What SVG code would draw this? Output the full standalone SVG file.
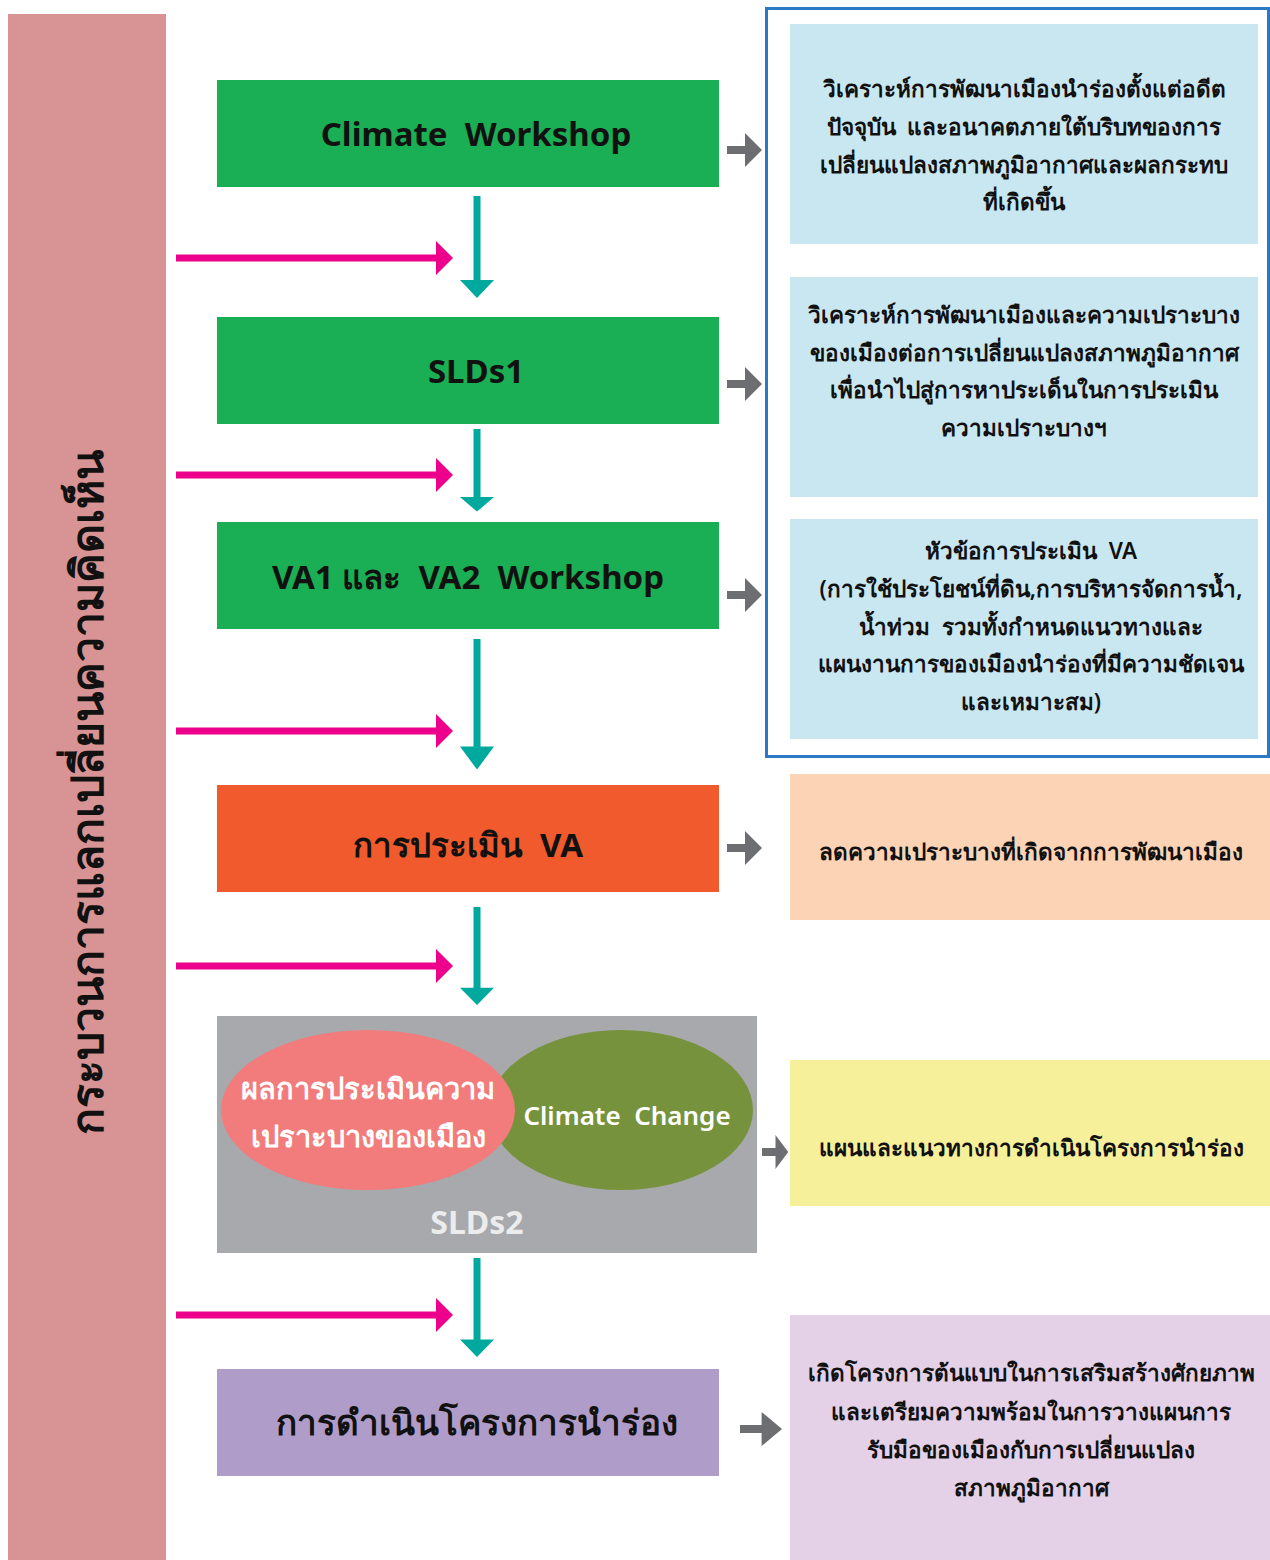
<svg xmlns="http://www.w3.org/2000/svg" width="1270" height="1560" viewBox="0 0 1270 1560">
<defs>
<style>
.t{font-family:"Noto Sans","DejaVu Sans",sans-serif;text-anchor:middle;white-space:pre}
.box{font-size:33px;font-weight:bold;fill:#111}
.desc{font-size:22.5px;font-weight:600;fill:#111}
.pink{fill:#ec008c}
.teal{fill:#00a99d}
.gray{fill:#6d6e71}
</style>
<g id="pinkArrow"><rect x="0" y="-3.5" width="262" height="7"/><polygon points="260,-17 277,0 260,17"/></g>
<g id="tealArrow"><rect x="-3.5" y="0" width="7" height="86"/><polygon points="-17,84 17,84 0,102"/></g>
<g id="grayArrow"><rect x="0" y="-4" width="20" height="8"/><polygon points="18,-17 35,0 18,17"/></g>
</defs>
<rect width="1270" height="1560" fill="#fff"/>
<g id="sidebar">
<rect x="8" y="14" width="158" height="1546" fill="#d89494"/>
<text class="t" transform="translate(103,792) rotate(-90)" font-size="44.5" font-weight="bold" fill="#111">กระบวนการแลกเปลี่ยนความคิดเห็น</text>
</g>
<g id="detailFrame"><rect x="766.5" y="8.5" width="502" height="748" fill="none" stroke="#2b78c5" stroke-width="3"/></g>
<g id="n1"><rect x="217" y="80" width="502" height="107" fill="#1aaf54"/><text class="t box" x="476" y="146" xml:space="preserve">Climate  Workshop</text></g>
<g id="n2"><rect x="217" y="317" width="502" height="107" fill="#1aaf54"/><text class="t box" x="476" y="383">SLDs1</text></g>
<g id="n3"><rect x="217" y="522" width="502" height="107" fill="#1aaf54"/><text class="t box" x="468" y="589" xml:space="preserve">VA1 และ  VA2  Workshop</text></g>
<g id="n4"><rect x="217" y="785" width="502" height="107" fill="#f05a2c"/><text class="t box" x="468" y="857" xml:space="preserve">การประเมิน  VA</text></g>
<g id="n5">
<rect x="217" y="1016" width="540" height="237" fill="#a7a9ac"/>
<ellipse cx="621" cy="1110" rx="132" ry="80" fill="#77923d"/>
<ellipse cx="368" cy="1110" rx="147" ry="80" fill="#f27b7c"/>
<text class="t" x="368" y="1099" font-size="29" font-weight="600" fill="#fff">ผลการประเมินความ</text>
<text class="t" x="368" y="1147" font-size="29" font-weight="600" fill="#fff">เปราะบางของเมือง</text>
<text class="t" x="627" y="1125" font-size="26" font-weight="600" fill="#fff" xml:space="preserve">Climate  Change</text>
<text class="t" x="477" y="1234" font-size="32" font-weight="bold" fill="#ececec">SLDs2</text>
</g>
<g id="n6"><rect x="217" y="1369" width="502" height="107" fill="#b09cc8"/><text class="t" x="477" y="1435" font-size="35" font-weight="bold" fill="#111">การดำเนินโครงการนำร่อง</text></g>
<g id="d1"><rect x="790" y="24" width="468" height="220" fill="#c9e7f1"/>
<text class="t desc" x="1024" y="97">วิเคราะห์การพัฒนาเมืองนำร่องตั้งแต่อดีต</text>
<text class="t desc" x="1024" y="135" xml:space="preserve">ปัจจุบัน  และอนาคตภายใต้บริบทของการ</text>
<text class="t desc" x="1024" y="173">เปลี่ยนแปลงสภาพภูมิอากาศและผลกระทบ</text>
<text class="t desc" x="1024" y="210">ที่เกิดขึ้น</text></g>
<g id="d2"><rect x="790" y="277" width="468" height="220" fill="#c9e7f1"/>
<text class="t desc" x="1024" y="323">วิเคราะห์การพัฒนาเมืองและความเปราะบาง</text>
<text class="t desc" x="1024" y="361">ของเมืองต่อการเปลี่ยนแปลงสภาพภูมิอากาศ</text>
<text class="t desc" x="1024" y="398">เพื่อนำไปสู่การหาประเด็นในการประเมิน</text>
<text class="t desc" x="1024" y="436">ความเปราะบางฯ</text></g>
<g id="d3"><rect x="790" y="519" width="468" height="220" fill="#c9e7f1"/>
<text class="t desc" x="1031" y="559" xml:space="preserve">หัวข้อการประเมิน  VA</text>
<text class="t desc" x="1031" y="597">(การใช้ประโยชน์ที่ดิน,การบริหารจัดการน้ำ,</text>
<text class="t desc" x="1031" y="635" xml:space="preserve">น้ำท่วม  รวมทั้งกำหนดแนวทางและ</text>
<text class="t desc" x="1031" y="672">แผนงานการของเมืองนำร่องที่มีความชัดเจน</text>
<text class="t desc" x="1031" y="710">และเหมาะสม)</text></g>
<g id="d4"><rect x="790" y="774" width="480" height="146" fill="#fcd3b5"/>
<text class="t desc" x="1031" y="860">ลดความเปราะบางที่เกิดจากการพัฒนาเมือง</text></g>
<g id="d5"><rect x="790" y="1060" width="480" height="146" fill="#f6f09b"/>
<text class="t desc" x="1031" y="1156">แผนและแนวทางการดำเนินโครงการนำร่อง</text></g>
<g id="d6"><rect x="790" y="1315" width="480" height="245" fill="#e4d1e7"/>
<text class="t desc" x="1031" y="1381">เกิดโครงการต้นแบบในการเสริมสร้างศักยภาพ</text>
<text class="t desc" x="1031" y="1420">และเตรียมความพร้อมในการวางแผนการ</text>
<text class="t desc" x="1031" y="1458">รับมือของเมืองกับการเปลี่ยนแปลง</text>
<text class="t desc" x="1031" y="1496">สภาพภูมิอากาศ</text></g>
<g id="connectors">
<use href="#tealArrow" class="teal" transform="translate(477,196)"/>
<use href="#tealArrow" class="teal" transform="translate(477,429) scale(1,0.81)"/>
<use href="#tealArrow" class="teal" transform="translate(477,639) scale(1,1.28)"/>
<use href="#tealArrow" class="teal" transform="translate(477,907) scale(1,0.96)"/>
<use href="#tealArrow" class="teal" transform="translate(477,1258) scale(1,0.97)"/>
<use href="#pinkArrow" class="pink" transform="translate(176,258)"/>
<use href="#pinkArrow" class="pink" transform="translate(176,475)"/>
<use href="#pinkArrow" class="pink" transform="translate(176,731)"/>
<use href="#pinkArrow" class="pink" transform="translate(176,966)"/>
<use href="#pinkArrow" class="pink" transform="translate(176,1315)"/>
<use href="#grayArrow" class="gray" transform="translate(727,150)"/>
<use href="#grayArrow" class="gray" transform="translate(727,384)"/>
<use href="#grayArrow" class="gray" transform="translate(727,595)"/>
<use href="#grayArrow" class="gray" transform="translate(727,848)"/>
<use href="#grayArrow" class="gray" transform="translate(762,1152) scale(0.75,1)"/>
<use href="#grayArrow" class="gray" transform="translate(740,1429) scale(1.2,1)"/>
</g>
</svg>
